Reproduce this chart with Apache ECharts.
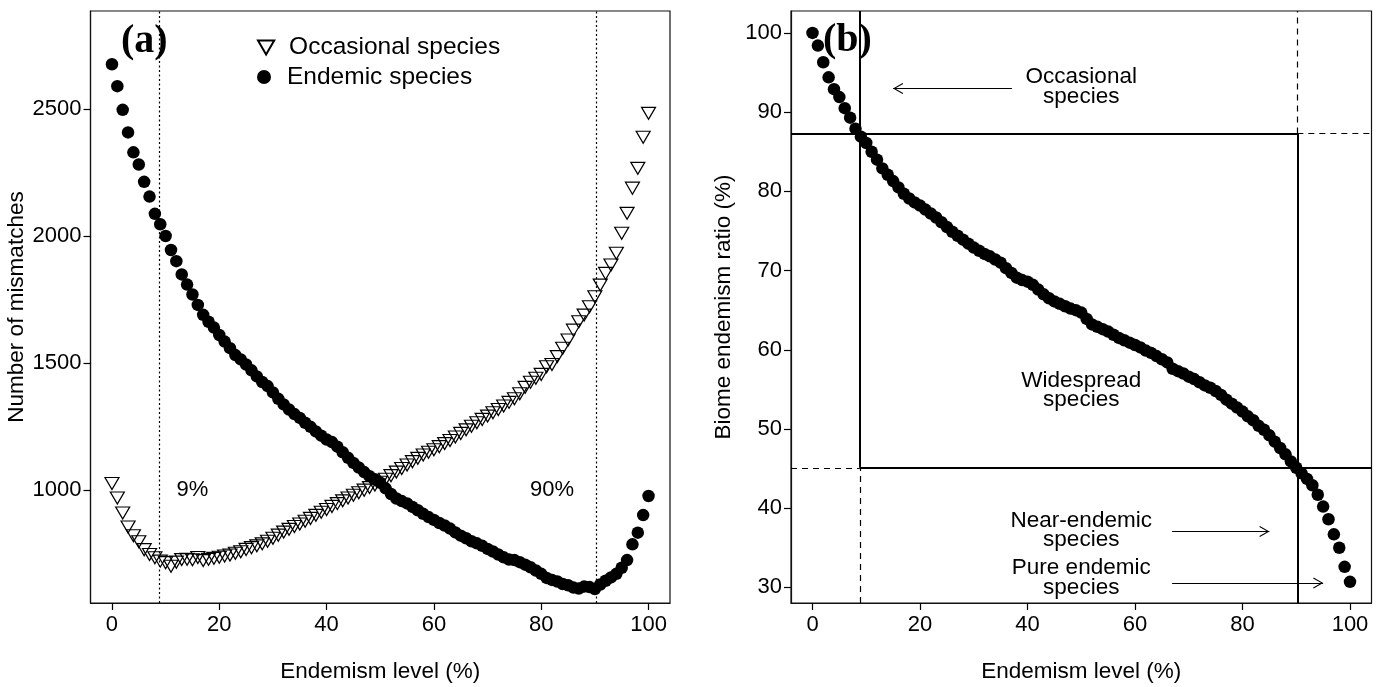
<!DOCTYPE html>
<html>
<head>
<meta charset="utf-8">
<title>Endemism level</title>
<script src="https://cdn.jsdelivr.net/npm/echarts@6/dist/echarts.min.js"></script>
<style>
  html, body { margin: 0; padding: 0; background: #fff; }
  #chart { width: 1380px; height: 687px; }
</style>
</head>
<body>
<div id="chart"></div>
<script>
// 横轴: 特有性水平 (%)
const levels = [
  0, 1, 2, 3, 4, 5, 6, 7, 8, 9,
  10, 11, 12, 13, 14, 15, 16, 17, 18, 19,
  20, 21, 22, 23, 24, 25, 26, 27, 28, 29,
  30, 31, 32, 33, 34, 35, 36, 37, 38, 39,
  40, 41, 42, 43, 44, 45, 46, 47, 48, 49,
  50, 51, 52, 53, 54, 55, 56, 57, 58, 59,
  60, 61, 62, 63, 64, 65, 66, 67, 68, 69,
  70, 71, 72, 73, 74, 75, 76, 77, 78, 79,
  80, 81, 82, 83, 84, 85, 86, 87, 88, 89,
  90, 91, 92, 93, 94, 95, 96, 97, 98, 99,
  100
]
// (a) Occasional species mismatches
const occasional = [
  1027, 970, 911, 856, 822, 798, 767, 748, 735, 722,
  716, 702, 718, 728, 729, 727, 736, 724, 729, 733,
  737, 742, 746, 753, 759, 768, 775, 782, 790, 800,
  812, 824, 836, 847, 858, 868, 879, 890, 902, 914,
  925, 937, 948, 959, 970, 981, 991, 1001, 1011, 1021,
  1032, 1044, 1058, 1072, 1086, 1100, 1113, 1126, 1139, 1150,
  1160, 1172, 1184, 1196, 1210, 1224, 1238, 1252, 1266, 1279,
  1292, 1305, 1318, 1332, 1346, 1360, 1380, 1405, 1425, 1441,
  1456, 1486, 1495, 1526, 1559, 1591, 1630, 1663, 1689, 1722,
  1761, 1807, 1853, 1886, 1932, 2011, 2089, 2188, 2266, 2388,
  2482
]
// (a) Endemic species mismatches
const endemic = [
  2675, 2589, 2496, 2407, 2329, 2281, 2213, 2155, 2087, 2046,
  2000, 1945, 1901, 1849, 1809, 1770, 1729, 1690, 1663, 1640,
  1611, 1585, 1559, 1532, 1515, 1495, 1472, 1448, 1426, 1410,
  1385, 1360, 1338, 1318, 1300, 1285, 1266, 1250, 1232, 1215,
  1200, 1190, 1172, 1150, 1128, 1108, 1090, 1072, 1056, 1044,
  1030, 1008, 986, 968, 958, 949, 935, 922, 908, 895,
  884, 872, 862, 850, 835, 822, 812, 800, 792, 782,
  770, 760, 748, 737, 728, 726, 718, 708, 698, 685,
  672, 656, 648, 642, 632, 627, 618, 614, 622, 620,
  612, 630, 645, 658, 672, 696, 726, 788, 834, 903,
  978
]
// (b) Biome endemism ratio (%)
const ratio = [
  100, 98.4, 96.3, 94.4, 92.9, 91.9, 90.5, 89.3, 87.9, 86.9,
  86.1, 85.0, 84.0, 82.9, 82.1, 81.3, 80.5, 79.7, 79.1, 78.6,
  78.2, 77.7, 77.2, 76.7, 76.1, 75.5, 74.9, 74.4, 73.9, 73.4,
  72.9, 72.5, 72.1, 71.8, 71.4, 71.0, 70.3, 69.7, 69.1, 68.8,
  68.6, 68.2, 67.6, 67.0, 66.5, 66.1, 65.8, 65.5, 65.2, 65.0,
  64.7, 63.9, 63.2, 62.9, 62.6, 62.3, 61.9, 61.5, 61.2, 60.9,
  60.6, 60.3, 59.9, 59.6, 59.2, 58.8, 58.4, 57.6, 57.3, 57.0,
  56.6, 56.3, 55.9, 55.5, 55.2, 54.8, 54.3, 53.7, 53.2, 52.7,
  52.2, 51.6, 51.1, 50.4, 49.9, 49.2, 48.4, 47.6, 46.8, 45.9,
  45.1, 44.4, 43.7, 42.9, 41.7, 40.2, 38.6, 36.7, 35.0, 32.6,
  30.7
]
// 阈值
const lowCut = 8.8
const highCut = 90.2
const ratioHigh = 87.3
const ratioLow = 45.1

// 刻度
const xTicks = [0, 20, 40, 60, 80, 100]
const mismatchTicks = [1000, 1500, 2000, 2500]
const ratioTicks = [30, 40, 50, 60, 70, 80, 90, 100]

// 注释文字
const aNotes = ['9%', '90%']
const aNoteX = [15, 82]
const aNoteY = [1000, 1000]
const bNotes = ['Occasional\nspecies', 'Widespread\nspecies', 'Near-endemic\nspecies', 'Pure endemic\nspecies']
const bNoteX = [50, 50, 50, 50]
const bNoteY = [93.2, 54.9, 37.2, 31.2]
// 箭头 [起点x, 终点x, y]
const bArrows = [[37.1, 15.0, 93.0], [66.9, 85.0, 37.05], [66.9, 95.0, 30.55]]

const font = '"Liberation Sans", Arial, sans-serif'
const xRange = [-4, 104]
const aRange = [557.4, 2884.4]
const bRange = [28.03, 102.77]

const triDown = 'path://M0,0L13.3,0L6.65,11.5Z'
const chevron = 'path://M5,-9.5L5.02,-9.5L5.02,-9.48Z M5,0L10,9.2L9.1,9.7L5,2L0.9,9.7L0,9.2Z'

const chart = echarts.init(document.getElementById('chart'), null, { renderer: 'canvas' })

function xAxisOf(gridIndex) {
  return {
    gridIndex,
    type: 'value',
    min: xRange[0],
    max: xRange[1],
    axisLine: { show: true, onZero: false, lineStyle: { color: '#111', width: 1.2 } },
    splitLine: { show: false },
    axisTick: { show: true, inside: false, length: 7, lineStyle: { color: '#000', width: 1.2 }, customValues: xTicks },
    axisLabel: { customValues: xTicks, fontSize: 22, color: '#000', margin: 11, fontFamily: font, formatter: v => String(v) },
    name: 'Endemism level (%)',
    nameLocation: 'middle',
    nameGap: 57,
    nameTextStyle: { fontSize: 22.5, color: '#000', fontFamily: font }
  }
}

function yAxisOf(gridIndex, range, ticks, name, gap) {
  return {
    gridIndex,
    type: 'value',
    min: range[0],
    max: range[1],
    axisLine: { show: true, onZero: false, lineStyle: { color: '#111', width: 1.2 } },
    splitLine: { show: false },
    axisTick: { show: true, inside: false, length: 7, lineStyle: { color: '#000', width: 1.2 }, customValues: ticks },
    axisLabel: { customValues: ticks, fontSize: 22, color: '#000', margin: 9, fontFamily: font, formatter: v => String(v) },
    name,
    nameLocation: 'middle',
    nameGap: gap,
    nameTextStyle: { fontSize: 22.5, color: '#000', fontFamily: font }
  }
}

const solid = { type: 'solid', width: 2, color: '#000' }
const dash = { type: [6, 5], width: 1.2, color: '#000' }
const thin = { type: 'solid', width: 1.1, color: '#000' }

// (b) 分区线
const guideLines = [
  [{ coord: [lowCut, ratioLow], lineStyle: solid }, { coord: [lowCut, bRange[1]] }],
  [{ coord: [lowCut, bRange[0]], lineStyle: dash }, { coord: [lowCut, ratioLow] }],
  [{ coord: [xRange[0], ratioHigh], lineStyle: solid }, { coord: [highCut, ratioHigh] }],
  [{ coord: [highCut, ratioHigh], lineStyle: dash }, { coord: [xRange[1], ratioHigh] }],
  [{ coord: [highCut, bRange[0]], lineStyle: solid }, { coord: [highCut, ratioHigh] }],
  [{ coord: [highCut, ratioHigh], lineStyle: dash }, { coord: [highCut, bRange[1]] }],
  [{ coord: [lowCut, ratioLow], lineStyle: solid }, { coord: [xRange[1], ratioLow] }],
  [{ coord: [xRange[0], ratioLow], lineStyle: dash }, { coord: [lowCut, ratioLow] }]
]
const arrowLines = bArrows.map(a => [
  { coord: [a[0], a[2]], lineStyle: thin, symbol: 'none' },
  { coord: [a[1], a[2]], symbol: chevron, symbolSize: [11, 20] }
])

const noteLabel = {
  show: true,
  position: 'inside',
  formatter: '{b}',
  color: '#000',
  opacity: 1,
  fontFamily: font
}

const option = {
  animation: false,
  backgroundColor: '#fff',
  grid: [
    { left: 90.5, top: 11, width: 579.5, height: 592, show: true, borderColor: '#111', borderWidth: 1.2, backgroundColor: 'transparent', outerBoundsMode: 'none' },
    { left: 791, top: 11, width: 580.5, height: 592, show: true, borderColor: '#111', borderWidth: 1.2, backgroundColor: 'transparent', outerBoundsMode: 'none' }
  ],
  xAxis: [xAxisOf(0), xAxisOf(1)],
  yAxis: [
    yAxisOf(0, aRange, mismatchTicks, 'Number of mismatches', 54),
    yAxisOf(1, bRange, ratioTicks, 'Biome endemism ratio (%)', 56)
  ],
  legend: [
    {
      data: ['Occasional species'], left: 257, top: 35, orient: 'vertical', padding: 0,
      itemWidth: 36, itemHeight: 14, selectedMode: false,
      textStyle: { fontSize: 24.5, color: '#000', fontFamily: font }
    },
    {
      data: ['Endemic species'], left: 257, top: 64.5, orient: 'vertical', padding: 0,
      itemWidth: 36, itemHeight: 14, selectedMode: false,
      textStyle: { fontSize: 24.5, color: '#000', fontFamily: font }
    }
  ],
  graphic: [
    { type: 'text', x: 121, y: 42, silent: true, style: { text: '(a)', fontSize: 40, fontWeight: 'bold', fontFamily: '"Liberation Serif", "Times New Roman", serif', fill: '#000', verticalAlign: 'middle' } },
    { type: 'text', x: 823, y: 41, silent: true, style: { text: '(b)', fontSize: 40, fontWeight: 'bold', fontFamily: '"Liberation Serif", "Times New Roman", serif', fill: '#000', verticalAlign: 'middle' } }
  ],
  series: [
    {
      name: 'Occasional species',
      type: 'scatter',
      xAxisIndex: 0,
      yAxisIndex: 0,
      data: levels.map((x, i) => [x, occasional[i]]),
      symbol: triDown,
      symbolSize: [14, 12],
      itemStyle: { color: 'rgba(0,0,0,0)', borderColor: '#000', borderWidth: 1.2, opacity: 1 },
      silent: true,
      z: 2,
      markLine: {
        silent: true,
        symbol: ['none', 'none'],
        label: { show: false },
        lineStyle: { type: [2, 2.5], color: '#000', width: 1.2, opacity: 1 },
        data: [{ xAxis: lowCut }, { xAxis: highCut }]
      }
    },
    {
      name: 'Endemic species',
      type: 'scatter',
      xAxisIndex: 0,
      yAxisIndex: 0,
      data: levels.map((x, i) => [x, endemic[i]]),
      symbol: 'circle',
      symbolSize: 12.5,
      itemStyle: { color: '#000', opacity: 1 },
      silent: true,
      z: 3
    },
    {
      name: 'a-notes',
      type: 'scatter',
      xAxisIndex: 0,
      yAxisIndex: 0,
      data: aNotes.map((t, i) => ({ name: t, value: [aNoteX[i], aNoteY[i]] })),
      symbolSize: 1,
      itemStyle: { color: 'rgba(0,0,0,0)', opacity: 1 },
      silent: true,
      label: Object.assign({}, noteLabel, { fontSize: 22 })
    },
    {
      name: 'ratio',
      type: 'scatter',
      xAxisIndex: 1,
      yAxisIndex: 1,
      data: levels.map((x, i) => [x, ratio[i]]),
      symbol: 'circle',
      symbolSize: 12.5,
      itemStyle: { color: '#000', opacity: 1 },
      silent: true,
      z: 3,
      markLine: {
        silent: true,
        symbol: ['none', 'none'],
        label: { show: false },
        data: guideLines.concat(arrowLines)
      }
    },
    {
      name: 'b-notes',
      type: 'scatter',
      xAxisIndex: 1,
      yAxisIndex: 1,
      data: bNotes.map((t, i) => ({ name: t, value: [bNoteX[i], bNoteY[i]] })),
      symbolSize: 1,
      itemStyle: { color: 'rgba(0,0,0,0)', opacity: 1 },
      silent: true,
      label: Object.assign({}, noteLabel, { fontSize: 22.5, lineHeight: 19.5 })
    }
  ]
}

chart.setOption(option)
</script>
</body>
</html>
